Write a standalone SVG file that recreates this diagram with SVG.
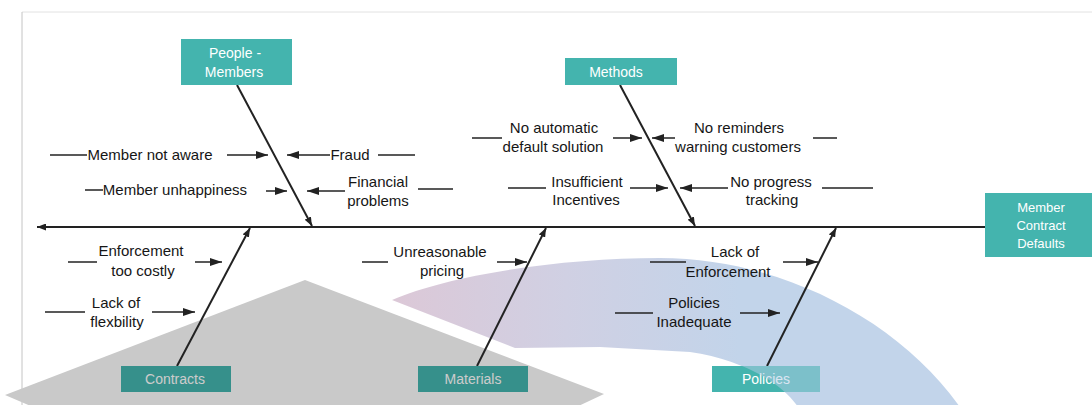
<svg xmlns="http://www.w3.org/2000/svg" width="1092" height="405" viewBox="0 0 1092 405">
<style>
.t{font-family:"Liberation Sans",Arial,sans-serif;font-size:15px;fill:#161616;text-anchor:middle}
.bt{font-family:"Liberation Sans",Arial,sans-serif;font-size:14px;fill:#ffffff;text-anchor:middle}
.box{fill:#44b4ae}
.ln{stroke:#222;stroke-width:1.5;fill:none}
.ar{stroke:#222;stroke-width:1.5;fill:none;marker-end:url(#ah)}
.bone{stroke:#222;stroke-width:2;fill:none;marker-end:url(#bh)}
</style>
<defs>
<marker id="ah" viewBox="0 0 12 8" refX="12" refY="4" markerWidth="12" markerHeight="8" markerUnits="userSpaceOnUse" orient="auto"><path d="M0,0 L12,4 L0,8 z" fill="#222"/></marker>
<marker id="bh" viewBox="0 0 9 7" refX="9" refY="3.5" markerWidth="9" markerHeight="7" markerUnits="userSpaceOnUse" orient="auto"><path d="M0,0 L9,3.5 L0,7 z" fill="#222"/></marker>
<linearGradient id="arcg" gradientUnits="userSpaceOnUse" x1="392" y1="0" x2="740" y2="0">
<stop offset="0" stop-color="#dcc8d7"/>
<stop offset="0.5" stop-color="#d0d0e3"/>
<stop offset="1" stop-color="#c2d4ea"/>
</linearGradient>
<path id="arcshape" d="M392,300 C450,275 560,258 660,258 C780,258 900,320 962,410 L800,410 C785,385 745,360 690,352 L600,347 L515,348 Z"/>
<polygon id="trishape" points="305,280 5,395 40,410 570,410 604,394"/>
<clipPath id="boxclip">
<rect x="121" y="366" width="110" height="26"/>
<rect x="418" y="366" width="110" height="26"/>
<rect x="712" y="366" width="108" height="26"/>
</clipPath>
</defs>
<rect width="1092" height="405" fill="#fff"/>
<g id="frame">
<line x1="22" y1="12" x2="1092" y2="12" stroke="#e2e2e2" stroke-width="1"/>
<line x1="22" y1="12" x2="22" y2="405" stroke="#c4c4c4" stroke-width="1"/>
</g>
<g id="background-shapes">
<use href="#trishape" fill="#c9c9c9"/>
<use href="#arcshape" fill="url(#arcg)"/>
</g>
<g id="connectors">
<line class="bone" x1="985" y1="227" x2="37" y2="227"/>
<line class="bone" x1="237" y1="85" x2="312" y2="226"/>
<line class="bone" x1="620" y1="85" x2="695" y2="226"/>
<line class="bone" x1="177" y1="366" x2="250" y2="228"/>
<line class="bone" x1="477" y1="366" x2="546" y2="228"/>
<line class="bone" x1="767" y1="366" x2="836" y2="228"/>
<line class="ln" x1="50" y1="155" x2="87" y2="155"/>
<line class="ar" x1="227" y1="155" x2="268" y2="155"/>
<line class="ln" x1="85" y1="190" x2="103" y2="190"/>
<line class="ar" x1="266" y1="191" x2="287" y2="191"/>
<line class="ar" x1="330" y1="155" x2="287" y2="155"/>
<line class="ln" x1="378" y1="155" x2="415" y2="155"/>
<line class="ar" x1="345" y1="191" x2="307" y2="191"/>
<line class="ln" x1="418" y1="189" x2="453" y2="189"/>
<line class="ln" x1="472" y1="138" x2="502" y2="138"/>
<line class="ar" x1="613" y1="138" x2="642" y2="138"/>
<line class="ar" x1="675" y1="138" x2="652" y2="138"/>
<line class="ln" x1="813" y1="138" x2="837" y2="138"/>
<line class="ln" x1="508" y1="188" x2="546" y2="188"/>
<line class="ar" x1="630" y1="188" x2="668" y2="188"/>
<line class="ar" x1="728" y1="188" x2="680" y2="188"/>
<line class="ln" x1="822" y1="188" x2="873" y2="188"/>
<line class="ln" x1="68" y1="262" x2="97" y2="262"/>
<line class="ar" x1="195" y1="262" x2="222" y2="262"/>
<line class="ln" x1="45" y1="312" x2="85" y2="312"/>
<line class="ar" x1="152" y1="312" x2="195" y2="312"/>
<line class="ln" x1="362" y1="262" x2="388" y2="262"/>
<line class="ar" x1="497" y1="262" x2="527" y2="262"/>
<line class="ln" x1="650" y1="262" x2="686" y2="262"/>
<line class="ar" x1="783" y1="262" x2="818" y2="262"/>
<line class="ln" x1="615" y1="313" x2="653" y2="313"/>
<line class="ar" x1="740" y1="313" x2="780" y2="313"/>
</g>
<g id="causes-people">
<text class="t" x="150" y="160">Member not aware</text>
<text class="t" x="175" y="195">Member unhappiness</text>
<text class="t" x="350" y="160">Fraud</text>
<text class="t" x="378" y="187">Financial</text>
<text class="t" x="378" y="206">problems</text>
</g>
<g id="causes-methods">
<text class="t" x="554" y="133">No automatic</text>
<text class="t" x="553" y="152">default solution</text>
<text class="t" x="739" y="133">No reminders</text>
<text class="t" x="738" y="152">warning customers</text>
<text class="t" x="587" y="187">Insufficient</text>
<text class="t" x="586" y="205">Incentives</text>
<text class="t" x="771" y="187">No progress</text>
<text class="t" x="772" y="205">tracking</text>
</g>
<g id="causes-contracts">
<text class="t" x="141" y="256">Enforcement</text>
<text class="t" x="143" y="276">too costly</text>
<text class="t" x="116" y="308">Lack of</text>
<text class="t" x="117" y="327">flexbility</text>
</g>
<g id="causes-materials">
<text class="t" x="440" y="257">Unreasonable</text>
<text class="t" x="442" y="276">pricing</text>
</g>
<g id="causes-policies">
<text class="t" x="735" y="257">Lack of</text>
<text class="t" x="728" y="277">Enforcement</text>
<text class="t" x="694" y="308">Policies</text>
<text class="t" x="694" y="327">Inadequate</text>
</g>
<g id="node-people">
<rect class="box" x="181" y="39" width="111" height="46"/>
<text class="bt" x="235" y="58">People -</text>
<text class="bt" x="234" y="77">Members</text>
</g>
<g id="node-methods">
<rect class="box" x="565" y="58" width="112" height="27"/>
<text class="bt" x="616" y="77">Methods</text>
</g>
<g id="node-effect">
<rect class="box" x="985" y="193" width="107" height="64"/>
<text class="bt" x="1041" y="212" style="font-size:13px">Member</text>
<text class="bt" x="1041" y="230" style="font-size:13px">Contract</text>
<text class="bt" x="1041" y="248" style="font-size:13px">Defaults</text>
</g>
<g id="node-contracts">
<rect class="box" x="121" y="366" width="110" height="26"/>
<text class="bt" x="175" y="384">Contracts</text>
</g>
<g id="node-materials">
<rect class="box" x="418" y="366" width="110" height="26"/>
<text class="bt" x="473" y="384">Materials</text>
</g>
<g id="node-policies">
<rect class="box" x="712" y="366" width="108" height="26"/>
<text class="bt" x="766" y="384">Policies</text>
</g>
<g id="box-overlays" clip-path="url(#boxclip)">
<use href="#trishape" fill="#000" fill-opacity="0.2"/>
<use href="#arcshape" fill="#b4cbe6" fill-opacity="0.5"/>
</g>
</svg>
